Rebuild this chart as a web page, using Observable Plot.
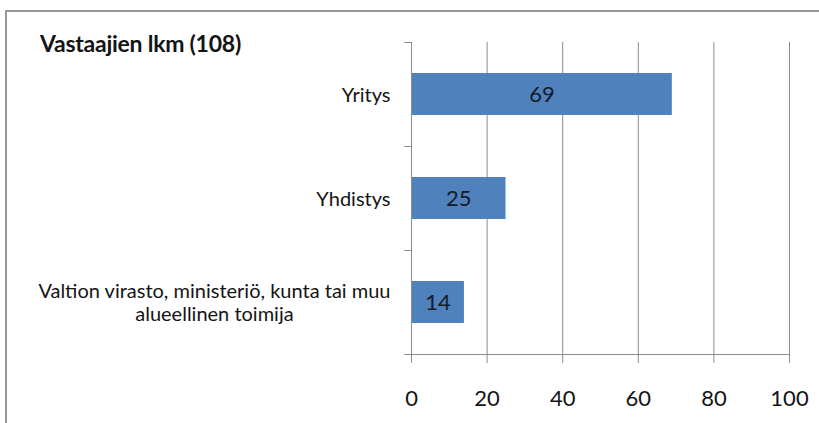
<!DOCTYPE html>
<html>
<head>
<meta charset="utf-8">
<script src="https://cdn.jsdelivr.net/npm/d3@7"></script>
<script src="https://cdn.jsdelivr.net/npm/@observablehq/plot@0.6"></script>
<style>
  html, body { margin: 0; padding: 0; background: #fff; overflow: hidden; }
  body { width: 819px; height: 423px; position: relative; font-family: Lato, "Open Sans", sans-serif; }
  #frame { position: absolute; left: 5px; top: 10px; width: 900px; height: 500px; border: 2px solid #969696; box-sizing: border-box; }
  #title { position: absolute; left: 40px; top: 32px; font-size: 23px; line-height: 23px; font-weight: bold; color: #141414; letter-spacing: -0.25px; white-space: nowrap; }
  #chart { position: absolute; left: 0; top: 0; }
</style>
</head>
<body>
<div id="frame"></div>
<div id="chart"></div>
<div id="title">Vastaajien lkm (108)</div>
<script>
const categories = ["Yritys", "Yhdistys", "Valtion virasto, ministeriö, kunta tai muu alueellinen toimija"];
const values = [69, 25, 14];
const tickLabels = ["Yritys", "Yhdistys", "Valtion virasto, ministeriö, kunta tai muu\nalueellinen toimija"];
const xTicks = [0, 20, 40, 60, 80, 100];

const data = categories.map((c, i) => ({category: c, value: values[i], label: tickLabels[i]}));

const W = 819, H = 423;
const mTop = 42, mBottom = 69, mLeft = 411, mRight = 30;
const step = (H - mTop - mBottom) / categories.length;

const chart = Plot.plot({
  width: W,
  height: H,
  marginTop: mTop,
  marginBottom: mBottom,
  marginLeft: mLeft,
  marginRight: mRight,
  style: {fontFamily: "Lato, 'Open Sans', sans-serif", color: "#141414", background: "transparent", overflow: "visible"},
  x: {domain: [0, 100], ticks: xTicks},
  y: {domain: categories, paddingInner: 0.596, paddingOuter: 0.298},
  marks: [
    Plot.ruleX(xTicks, {x: d => d, stroke: "#8c8c8c", strokeWidth: 1, strokeOpacity: 1}),
    Plot.barX(data, {x: "value", y: "category", fill: "#4F81BD"}),
    Plot.text(data, {x: d => d.value / 2, y: "category", text: d => String(d.value), fontSize: 22, fill: "#141a26"}),
    Plot.frame({anchor: "bottom", stroke: "#8c8c8c"}),
    Plot.frame({anchor: "left", stroke: "#8c8c8c"}),
    Plot.ruleY(categories, {y: d => d, dy: -step / 2, x1: -1.8, x2: 0, stroke: "#8c8c8c"}),
    Plot.ruleY(categories.slice(-1), {y: d => d, dy: step / 2, x1: -1.8, x2: 0, stroke: "#8c8c8c"}),
    Plot.axisX({ticks: xTicks, tickSize: 9, tickPadding: 27, fontSize: 22, stroke: "#8c8c8c", fill: "#141414", label: null}),
    Plot.axisY({tickSize: 0, tickPadding: 21, fontSize: 20, lineHeight: 1.15, fill: "#141414", label: null,
      tickFormat: d => tickLabels[categories.indexOf(d)]})
  ]
});

document.getElementById("chart").appendChild(chart);

// center the lines of a multi-line category label within its right-aligned block (as in the original)
chart.querySelectorAll("g[aria-label='y-axis tick label'] text").forEach(t => {
  const spans = t.querySelectorAll("tspan");
  if (spans.length > 1) {
    let w = 0;
    spans.forEach(s => { w = Math.max(w, s.getComputedTextLength()); });
    t.setAttribute("text-anchor", "middle");
    spans.forEach(s => s.setAttribute("x", String(-w / 2)));
  }
});
</script>
</body>
</html>
